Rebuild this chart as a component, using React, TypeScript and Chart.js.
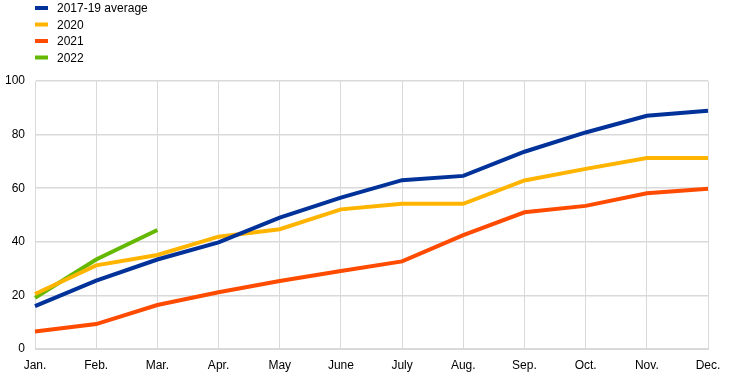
import React, { useEffect, useRef } from "react";
import { Chart, registerables } from "chart.js";

Chart.register(...registerables);

const months = ["Jan.", "Feb.", "Mar.", "Apr.", "May", "June", "July", "Aug.", "Sep.", "Oct.", "Nov.", "Dec."];
const avg1719 = [16.0, 25.5, 33.4, 39.8, 49.0, 56.5, 63.0, 64.6, 73.6, 80.8, 87.0, 88.9];
const y2020 = [20.5, 31.2, 35.1, 41.9, 44.7, 52.1, 54.2, 54.2, 62.9, 67.2, 71.3, 71.3];
const y2021 = [6.5, 9.3, 16.4, 21.2, 25.4, 29.1, 32.7, 42.5, 51.0, 53.4, 58.1, 59.8];
const y2022 = [19.1, 33.4, 44.4];
const seriesNames = ["2017-19 average", "2020", "2021", "2022"];
const seriesColors = ["#003299", "#ffb400", "#ff4b00", "#65b800"];
const yTicks = [0, 20, 40, 60, 80, 100];

const FONT = "Arial, 'Liberation Sans', sans-serif";

const legendPlugin = {
  id: "vlegend",
  afterDraw(chart: any) {
    const ctx = chart.ctx;
    ctx.save();
    chart.data.datasets.forEach((ds: any, i: number) => {
      const y = 8 + i * 16.5;
      ctx.strokeStyle = ds.borderColor;
      ctx.lineWidth = 4;
      ctx.beginPath();
      ctx.moveTo(35, y);
      ctx.lineTo(48, y);
      ctx.stroke();
      ctx.fillStyle = "#000";
      ctx.font = "12px " + FONT;
      ctx.textBaseline = "middle";
      ctx.textAlign = "left";
      ctx.fillText(ds.label, 57, y + 1);
    });
    ctx.restore();
  },
};

export default function App() {
  const ref = useRef<HTMLCanvasElement>(null);
  useEffect(() => {
    document.body.style.margin = "0";
    const data = [avg1719, y2020, y2021, y2022];
    const chart = new Chart(ref.current!, {
      type: "line",
      data: {
        labels: months,
        datasets: data.map((d, i) => ({
          label: seriesNames[i],
          data: d,
          borderColor: seriesColors[i],
          backgroundColor: seriesColors[i],
          borderWidth: 4,
          pointRadius: 0,
          tension: 0,
          fill: false,
        })),
      },
      options: {
        animation: false,
        responsive: false,
        maintainAspectRatio: false,
        layout: { padding: { left: 0, right: 36, top: 81, bottom: 0 } },
        plugins: { legend: { display: false }, tooltip: { enabled: false } },
        scales: {
          x: {
            offset: false,
            grid: { color: "#d9d9d9", lineWidth: 1, drawTicks: false },
            border: { color: "#d9d9d9" },
            ticks: { color: "#000", font: { family: FONT, size: 12 }, padding: 9, maxRotation: 0, autoSkip: false },
            afterFit(scale: any) { scale.height = 28; },
          },
          y: {
            min: 0,
            max: 100,
            afterBuildTicks(scale: any) { scale.ticks = yTicks.map((v) => ({ value: v })); },
            grid: { color: "#d9d9d9", lineWidth: 1.5, drawTicks: false },
            border: { color: "#d9d9d9" },
            ticks: { color: "#000", font: { family: FONT, size: 12 }, padding: 10 },
            afterFit(scale: any) { scale.width = 35; },
          },
        },
      },
      plugins: [legendPlugin],
    });
    return () => chart.destroy();
  }, []);
  return (
    <div style={{ position: "fixed", left: 0, top: 0, width: 744, height: 377 }}>
      <canvas ref={ref} width={744} height={377} style={{ width: 744, height: 377 }} />
    </div>
  );
}
